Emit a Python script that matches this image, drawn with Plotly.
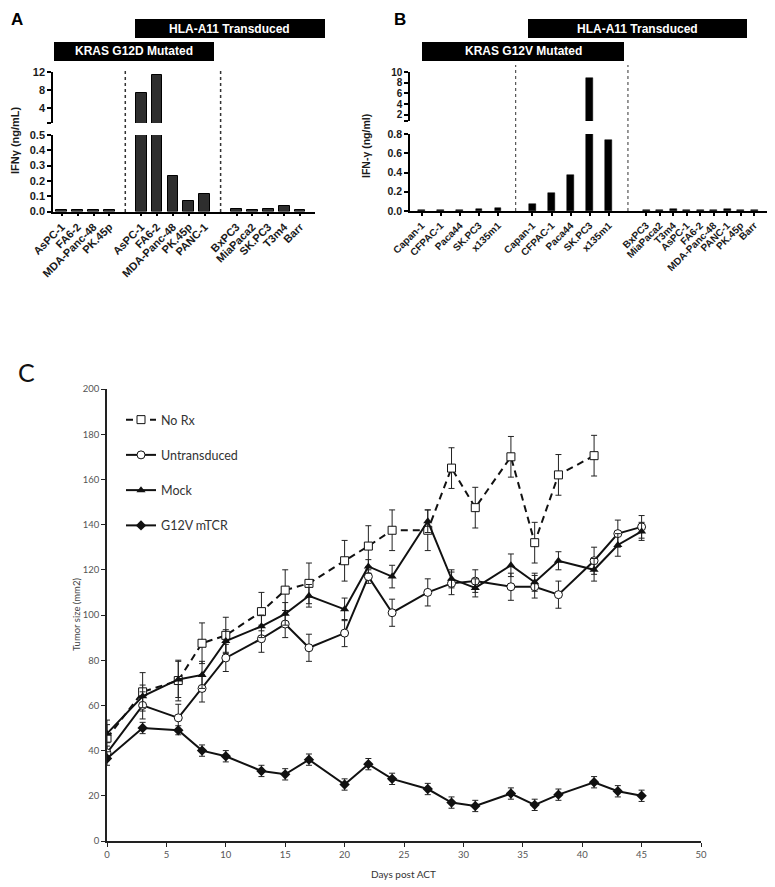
import plotly.graph_objects as go

# page has an 8px body margin; figure fills the rest of the 775x887 window
OFF = 8
W, H = 775 - OFF, 887 - OFF

# ---------------- Panel A data (KRAS G12D) ----------------
a_mut_labels = ["AsPC-1", "FA6-2", "MDA-Panc-48", "PK.45p"]
a_mut_values = [0.012, 0.012, 0.012, 0.012]
a_trans_labels = ["AsPC-1", "FA6-2", "MDA-Panc-48", "PK.45p", "PANC-1"]
a_trans_values = [7.3, 11.3, 0.235, 0.066, 0.113]
a_ctrl_labels = ["BxPC3", "MiaPaca2", "SK.PC3", "T3m4", "Barr"]
a_ctrl_values = [0.015, 0.010, 0.015, 0.036, 0.010]

# ---------------- Panel B data (KRAS G12V) ----------------
b_mut_labels = ["Capan-1", "CFPAC-1", "Paca44", "SK.PC3", "x135m1"]
b_mut_values = [0.006, 0.006, 0.006, 0.016, 0.036]
b_trans_labels = ["Capan-1", "CFPAC-1", "Paca44", "SK.PC3", "x135m1"]
b_trans_values = [0.073, 0.19, 0.375, 8.8, 0.735]
b_ctrl_labels = ["BxPC3", "MiaPaca2", "T3m4", "AsPC-1", "FA6-2", "MDA-Panc-48", "PANC-1", "PK.45p", "Barr"]
b_ctrl_values = [0.012, 0.006, 0.025, 0.006, 0.006, 0.006, 0.025, 0.012, 0.006]

# ---------------- Panel C data (tumor growth) ----------------
days = [0, 3, 6, 8, 10, 13, 15, 17, 20, 22, 24, 27, 29, 31, 34, 36, 38, 41, 43, 45]
norx_days = days[:18]
norx_mean = [45.5, 66, 71, 87.5, 91, 101.5, 111, 114, 124, 130.5, 137.5, 137.5, 165, 147.5, 170, 132, 162, 170.5]
norx_sem = [8, 8.5, 9, 9, 8, 8.5, 9, 9, 9, 9, 9, 9, 9, 9, 9, 9, 9, 9]
untr_mean = [39, 60, 54.5, 67.5, 81, 89.5, 96, 85.5, 92, 117, 101, 110, 114, 115, 112.5, 112.5, 109, 124, 136, 139]
untr_sem = [3, 6, 6, 6, 6, 6, 6, 6, 6, 3, 6, 6, 5, 5, 6, 5, 6, 6, 6, 5]
mock_mean = [47.5, 64, 71.5, 73.5, 88.5, 95, 100.5, 108.5, 102.5, 121.5, 117, 141.5, 116, 112, 122, 114.5, 124, 120, 131, 137]
mock_sem = [4, 5, 8, 6, 5, 5, 5, 5, 5, 3, 5, 5, 4, 4, 5, 4, 4, 5, 5, 4]
g12v_mean = [36.5, 50, 49, 40, 37.5, 31, 29.5, 36, 25, 34, 27.5, 23, 17, 15.5, 21, 16, 20.5, 26, 22, 20]
g12v_sem = [3, 2.5, 2, 2.5, 2.5, 2.5, 2.5, 2.5, 2.5, 2.5, 2.5, 2.5, 2.5, 2.5, 2.5, 2.5, 2.5, 2.5, 2.5, 2.5]


def px(x):
    return (x - OFF) / W


def py(y):
    return 1 - (y - OFF) / H


BOLD = dict(family="Liberation Sans, Arial", color="#1a1a1a", size=10, weight="bold")

fig = go.Figure()

# ---------- positions (layout) ----------
a_groups = [(a_mut_labels, a_mut_values), (a_trans_labels, a_trans_values), (a_ctrl_labels, a_ctrl_values)]
a_x, a_lab, a_val = [], [], []
start = 0
a_seps = []
for gi, (labs, vals) in enumerate(a_groups):
    for i, (l, v) in enumerate(zip(labs, vals)):
        a_x.append(start + i)
        a_lab.append(l)
        a_val.append(v)
    start += len(labs) + 1
    if gi < 2:
        a_seps.append(start - 1)

b_groups = [(b_mut_labels, b_mut_values, 0.0, 1.0),
            (b_trans_labels, b_trans_values, 5.8, 1.0),
            (b_ctrl_labels, b_ctrl_values, 11.75, 0.707)]
b_x, b_lab, b_val = [], [], []
for labs, vals, s0, step in b_groups:
    for i, (l, v) in enumerate(zip(labs, vals)):
        b_x.append(s0 + i * step)
        b_lab.append(l)
        b_val.append(v)
b_seps = [4.92, 10.8]

a_bar = dict(color="#2e2e2e", line=dict(color="#000", width=1))
b_bar = dict(color="#000", line=dict(color="#000", width=0.5))

fig.add_trace(go.Bar(x=a_x, y=a_val, width=0.68, marker=a_bar, xaxis="x", yaxis="y", showlegend=False))
fig.add_trace(go.Bar(x=a_x, y=a_val, width=0.68, marker=a_bar, xaxis="x2", yaxis="y2", showlegend=False))
fig.add_trace(go.Bar(x=b_x, y=b_val, width=0.36, marker=b_bar, xaxis="x3", yaxis="y3", showlegend=False))
fig.add_trace(go.Bar(x=b_x, y=b_val, width=0.36, marker=b_bar, xaxis="x4", yaxis="y4", showlegend=False))


def err(arr):
    return dict(type="data", array=arr, color="#222", thickness=1, width=3)


fig.add_trace(go.Scatter(x=norx_days, y=norx_mean, error_y=err(norx_sem), mode="lines+markers",
                         name="No Rx", legendgroup="a",
                         line=dict(color="#111", width=2, dash="7px,5px"),
                         marker=dict(symbol="square", size=8, color="white", line=dict(color="#111", width=1)),
                         xaxis="x5", yaxis="y5"))
fig.add_trace(go.Scatter(x=days, y=untr_mean, error_y=err(untr_sem), mode="lines+markers",
                         name="Untransduced", legendgroup="b",
                         line=dict(color="#111", width=2),
                         marker=dict(symbol="circle", size=8, color="white", line=dict(color="#111", width=1)),
                         xaxis="x5", yaxis="y5"))
fig.add_trace(go.Scatter(x=days, y=mock_mean, error_y=err(mock_sem), mode="lines+markers",
                         name="Mock", legendgroup="c",
                         line=dict(color="#111", width=2),
                         marker=dict(symbol="triangle-up", size=8, color="#111"),
                         xaxis="x5", yaxis="y5"))
fig.add_trace(go.Scatter(x=days, y=g12v_mean, error_y=err(g12v_sem), mode="lines+markers",
                         name="G12V mTCR", legendgroup="d",
                         line=dict(color="#111", width=2),
                         marker=dict(symbol="diamond", size=8, color="#111"),
                         xaxis="x5", yaxis="y5"))

axline = dict(showline=True, linecolor="#000", linewidth=1.5, ticks="outside", tickcolor="#000",
              tickwidth=1.5, showgrid=False, zeroline=False, automargin=False)

a_xdom = [px(53), px(315)]
b_xdom = [px(410), px(767)]
a_range = [-0.55, 15.94]
b_range = [-0.61, 18.08]
cfont = dict(family="Lato, Open Sans", size=9.5, color="#555")

layout = dict(
    width=W, height=H, margin=dict(l=0, r=0, t=0, b=0, autoexpand=False),
    paper_bgcolor="white", plot_bgcolor="white", bargap=0,
    xaxis=dict(domain=a_xdom, range=a_range, anchor="y", tickvals=a_x, ticktext=a_lab, tickangle=-45,
               ticklen=3, tickfont=dict(BOLD, size=11), **axline),
    yaxis=dict(domain=[py(211.5), py(135)], range=[0, 0.5], anchor="x",
               tickvals=[0, 0.1, 0.2, 0.3, 0.4, 0.5], ticktext=["0.0", "0.1", "0.2", "0.3", "0.4", "0.5"],
               ticklen=4, tickfont=dict(BOLD, size=11), **axline),
    xaxis2=dict(domain=a_xdom, range=a_range, anchor="y2", visible=False, matches="x", automargin=False),
    yaxis2=dict(domain=[py(123), py(72)], range=[0.67, 12], anchor="x2",
                tickvals=[0.67, 4, 8, 12], ticktext=["", "4", "8", "12"],
                ticklen=4, tickfont=dict(BOLD, size=11), **axline),
    xaxis3=dict(domain=b_xdom, range=b_range, anchor="y3", tickvals=b_x, ticktext=b_lab, tickangle=-45,
                ticklen=3, tickfont=dict(BOLD, size=10), **axline),
    yaxis3=dict(domain=[py(211), py(134)], range=[0, 0.8], anchor="x3",
                tickvals=[0, 0.2, 0.4, 0.6, 0.8], ticktext=["0.0", "0.2", "0.4", "0.6", "0.8"],
                ticklen=4, tickfont=dict(BOLD, size=10.5), **axline),
    xaxis4=dict(domain=b_xdom, range=b_range, anchor="y4", visible=False, matches="x3", automargin=False),
    yaxis4=dict(domain=[py(121), py(72)], range=[0.88, 10], anchor="x4",
                tickvals=[0.88, 2, 4, 6, 8, 10], ticktext=["", "2", "4", "6", "8", "10"],
                ticklen=4, tickfont=dict(BOLD, size=10), **axline),
    xaxis5=dict(domain=[px(107), px(701)], range=[0, 50], anchor="y5", dtick=5, ticklen=4,
                showline=True, linecolor="#222", linewidth=1.5, ticks="outside", tickcolor="#222",
                tickwidth=1, showgrid=False, zeroline=False, automargin=False, tickfont=cfont),
    yaxis5=dict(domain=[py(841), py(389)], range=[0, 200], anchor="x5", dtick=20, ticklen=4,
                showline=True, linecolor="#222", linewidth=1.5, ticks="outside", tickcolor="#222",
                tickwidth=1, showgrid=False, zeroline=False, automargin=False, tickfont=cfont),
    legend=dict(x=px(121), y=py(405), xanchor="left", yanchor="top", traceorder="grouped",
                tracegroupgap=16, bgcolor="rgba(0,0,0,0)",
                font=dict(family="Lato, Open Sans", size=12.5, color="#333")),
    showlegend=True,
)
fig.update_layout(**layout)

shapes = []
annotations = []

for s in a_seps:
    shapes.append(dict(type="line", xref="x", yref="paper", x0=s, x1=s, y0=py(212), y1=py(69),
                       line=dict(color="#333", width=1.5, dash="dot")))
for s in b_seps:
    shapes.append(dict(type="line", xref="x3", yref="paper", x0=s, x1=s, y0=py(211), y1=py(65),
                       line=dict(color="#555", width=1.2, dash="dot")))

headers = [
    (135, 325, 19, 38, "HLA-A11 Transduced"),
    (54, 214, 42, 61, "KRAS G12D Mutated"),
    (528, 747, 19, 38, "HLA-A11 Transduced"),
    (422, 624, 42, 61, "KRAS G12V Mutated"),
]
for x0, x1, y0, y1, txt in headers:
    shapes.append(dict(type="rect", xref="paper", yref="paper", x0=px(x0), x1=px(x1), y0=py(y1), y1=py(y0),
                       fillcolor="#000", line=dict(width=0)))
    annotations.append(dict(xref="paper", yref="paper", x=px((x0 + x1) / 2), y=py((y0 + y1) / 2),
                            text=txt, showarrow=False, xanchor="center", yanchor="middle",
                            font=dict(family="Liberation Sans, Arial", size=12, color="white", weight="bold")))

annotations.append(dict(xref="paper", yref="paper", x=px(9), y=py(8.5), text="A", showarrow=False,
                        xanchor="left", yanchor="top",
                        font=dict(family="Liberation Sans, Arial", size=17, color="#000", weight="bold")))
annotations.append(dict(xref="paper", yref="paper", x=px(392), y=py(8.5), text="B", showarrow=False,
                        xanchor="left", yanchor="top",
                        font=dict(family="Liberation Sans, Arial", size=17, color="#000", weight="bold")))
annotations.append(dict(xref="paper", yref="paper", x=px(16), y=py(372), text="C", showarrow=False,
                        xanchor="left", yanchor="middle",
                        font=dict(family="Lato, Open Sans", size=25, color="#111")))

annotations.append(dict(xref="paper", yref="paper", x=px(15), y=py(140), text="IFNγ (ng/mL)", showarrow=False,
                        textangle=-90, xanchor="center", yanchor="middle",
                        font=dict(family="Liberation Sans, Arial", size=11, color="#1a1a1a", weight="bold")))
annotations.append(dict(xref="paper", yref="paper", x=px(366), y=py(146), text="IFN-γ (ng/ml)", showarrow=False,
                        textangle=-90, xanchor="center", yanchor="middle",
                        font=dict(family="Liberation Sans, Arial", size=10.5, color="#1a1a1a", weight="bold")))
annotations.append(dict(xref="paper", yref="paper", x=px(76), y=py(615), text="Tumor size (mm2)", showarrow=False,
                        textangle=-90, xanchor="center", yanchor="middle",
                        font=dict(family="Lato, Open Sans", size=9.5, color="#444")))
annotations.append(dict(xref="paper", yref="paper", x=px(403), y=py(874), text="Days post ACT", showarrow=False,
                        xanchor="center", yanchor="middle",
                        font=dict(family="Lato, Open Sans", size=10, color="#333")))

fig.update_layout(shapes=shapes, annotations=annotations)

fig.write_html("out.html")
